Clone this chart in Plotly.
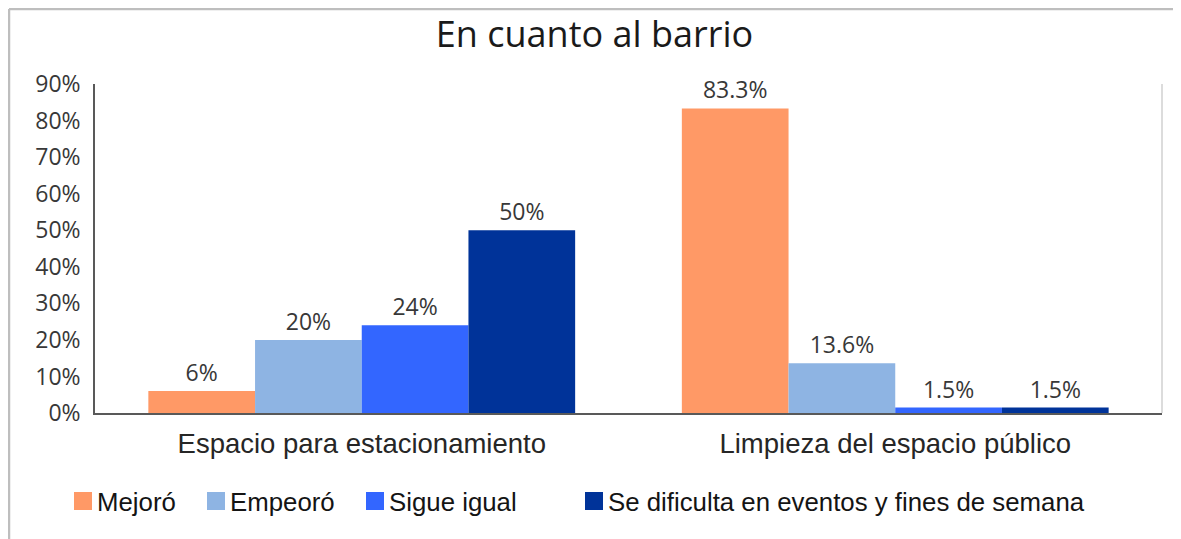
import plotly.graph_objects as go

categories = ["Espacio para estacionamiento", "Limpieza del espacio público"]
series_names = ["Mejoró", "Empeoró", "Sigue igual", "Se dificulta en eventos y fines de semana"]
mejoro = [6, 83.3]
empeoro = [20, 13.6]
sigue_igual = [24, 1.5]
se_dificulta = [50, 1.5]
y_ticks = [0, 10, 20, 30, 40, 50, 60, 70, 80, 90]
colors = ["#FF9966", "#8EB4E3", "#3366FF", "#003399"]

# page is offset by the 8px body margin
OFF = 8
W, H = 1181 - OFF, 539 - OFF
L, R, T, B = 95 - OFF, 19, 84 - OFF, 126
PW, PH = W - L - R, H - T - B

def px(x):
    return (x - OFF - L) / PW

def py(y):
    return (H - B - (y - OFF)) / PH

fig = go.Figure()
for name, vals, col in zip(series_names, [mejoro, empeoro, sigue_igual, se_dificulta], colors):
    fig.add_trace(go.Bar(
        x=categories, y=vals, name=name, marker=dict(color=col, line=dict(width=0)),
        text=[f"{v:g}%" for v in vals], textposition="outside", cliponaxis=False,
        textfont=dict(family="Open Sans", size=23, color="#383838"),
        showlegend=False,
    ))

shapes = [
    # outer border (top and left)
    dict(type="line", xref="paper", yref="paper", x0=px(9), x1=px(1181 + 5), y0=py(9), y1=py(9),
         line=dict(color="#BEBEBE", width=2.5)),
    dict(type="line", xref="paper", yref="paper", x0=px(9), x1=px(9), y0=py(9), y1=py(539 + 5),
         line=dict(color="#BEBEBE", width=2.5)),
    # right light plot border
    dict(type="line", xref="paper", yref="paper", x0=1, x1=1, y0=0, y1=1,
         line=dict(color="#D0D0D0", width=1.5)),
]
annotations = []
swatch_left = [74, 207, 366, 585]
for name, col, sl in zip(series_names, colors, swatch_left):
    shapes.append(dict(type="rect", xref="paper", yref="paper", x0=px(sl), x1=px(sl + 18),
                       y0=py(492), y1=py(510), fillcolor=col, line=dict(width=0)))
    annotations.append(dict(text=name, xref="paper", yref="paper", x=px(sl + 21), y=py(502),
                            xanchor="left", yanchor="middle", showarrow=False,
                            font=dict(family="Liberation Sans", size=25.8, color="#141414")))

fig.update_layout(
    width=W, height=H,
    margin=dict(l=L, r=R, t=T, b=B),
    paper_bgcolor="white", plot_bgcolor="white",
    barmode="group", bargap=0.2, bargroupgap=0,
    title=dict(text="En cuanto al barrio", x=(594.5 - OFF) / W, xanchor="center",
               y=1 - (34 - OFF) / H, yanchor="middle",
               font=dict(family="Open Sans", size=36, color="#1A1A1A")),
    xaxis=dict(showgrid=False, showline=True, linecolor="#595959", linewidth=1.5, ticks="",
               tickfont=dict(family="Liberation Sans", size=27.5, color="#262626"), ticklabelstandoff=5),
    yaxis=dict(range=[0, 90], tickvals=y_ticks, ticktext=[f"{v}%" for v in y_ticks],
               showgrid=False, zeroline=False,
               showline=True, linecolor="#595959", linewidth=1.5, ticks="",
               tickfont=dict(family="Open Sans", size=23, color="#383838"), ticklabelstandoff=8),
    shapes=shapes, annotations=annotations,
)

fig.write_html("out.html")
